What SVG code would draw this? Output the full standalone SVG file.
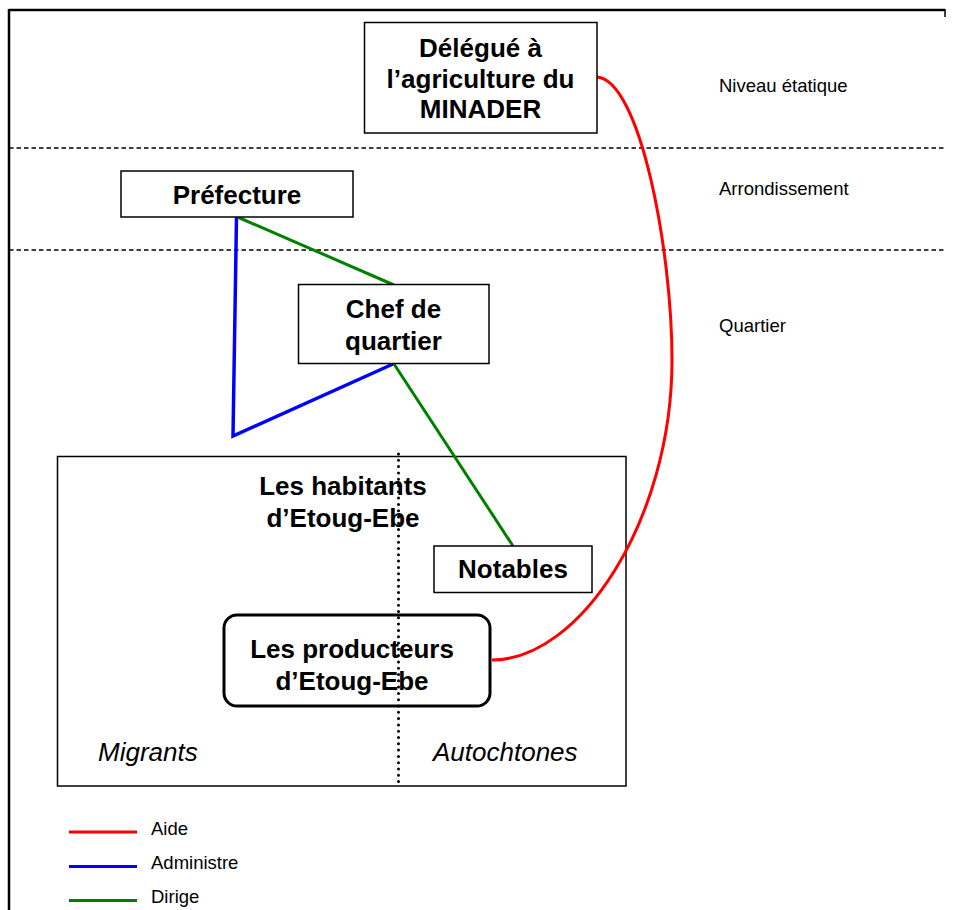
<svg xmlns="http://www.w3.org/2000/svg" width="956" height="910" viewBox="0 0 956 910">
<style>
text{font-family:"Liberation Sans",Arial,sans-serif;fill:#000}
.b{font-weight:bold;font-size:26px;text-anchor:middle}
.s{font-size:18.5px}
.i{font-style:italic;font-size:26px}
.box{fill:#fff;stroke:#000;stroke-width:1.5}
.dash{stroke:#000;stroke-width:1.3;stroke-dasharray:4.5 3;fill:none}
.red{stroke:#ff0000;stroke-width:3;fill:none}
.blue{stroke:#0000ff;stroke-width:3.5;fill:none;stroke-linejoin:miter}
.green{stroke:#008000;stroke-width:3;fill:none}
</style>
<rect width="956" height="910" fill="#fff"/>
<g id="frame">
<line x1="9" y1="10" x2="945" y2="10" stroke="#000" stroke-width="2.5"/>
<line x1="9" y1="9" x2="9" y2="910" stroke="#000" stroke-width="2.5"/>
<line x1="945" y1="9" x2="945" y2="17" stroke="#000" stroke-width="1.5"/>
<line class="dash" x1="9" y1="148" x2="945" y2="148"/>
<line class="dash" x1="9" y1="250" x2="945" y2="250"/>
</g>
<g id="levels">
<text class="s" x="719" y="92">Niveau étatique</text>
<text class="s" x="719" y="195">Arrondissement</text>
<text class="s" x="719" y="332">Quartier</text>
</g>
<g id="habitants">
<rect class="box" x="57.5" y="456.5" width="568.5" height="329.5"/>
<line x1="398.5" y1="454" x2="398.5" y2="786" stroke="#000" stroke-width="3" stroke-dasharray="0 6.3" stroke-linecap="round"/>
<text class="b" x="343" y="495">Les habitants</text>
<text class="b" x="343" y="527">d’Etoug-Ebe</text>
<text class="i" x="98" y="761">Migrants</text>
<text class="i" x="433" y="761">Autochtones</text>
</g>
<g id="connectors">
<path class="blue" d="M236.5,217 L233,436 L393,364"/>
<path class="green" d="M237.5,217 L394,285"/>
<path class="green" d="M394,364 L513,546"/>
<path class="red" d="M597,77 C640,80 672,250 672,360 C672,520 580,660 492,660"/>
</g>
<g id="delegue">
<rect class="box" x="364.5" y="22.5" width="232.5" height="110.5"/>
<text class="b" x="480.5" y="57">Délégué à</text>
<text class="b" x="480.5" y="88">l’agriculture du</text>
<text class="b" x="480.5" y="118">MINADER</text>
</g>
<g id="prefecture">
<rect class="box" x="121" y="171" width="232" height="46"/>
<text class="b" x="237" y="204">Préfecture</text>
</g>
<g id="chef">
<rect class="box" x="298.5" y="284.5" width="190.5" height="79"/>
<text class="b" x="393.5" y="318">Chef de</text>
<text class="b" x="393.5" y="350">quartier</text>
</g>
<g id="notables">
<rect class="box" x="434" y="546" width="158" height="46.5"/>
<text class="b" x="513" y="578">Notables</text>
</g>
<g id="producteurs">
<rect x="224" y="615" width="266" height="91" rx="13" fill="none" stroke="#000" stroke-width="3"/>
<text class="b" x="352" y="658">Les producteurs</text>
<text class="b" x="352" y="690">d’Etoug-Ebe</text>
</g>
<g id="legend">
<line x1="69" y1="832" x2="137" y2="832" stroke="#ff0000" stroke-width="3"/>
<line x1="69" y1="866.5" x2="137" y2="866.5" stroke="#0000ff" stroke-width="3"/>
<line x1="69" y1="900.5" x2="137" y2="900.5" stroke="#008000" stroke-width="3"/>
<text class="s" x="151" y="835">Aide</text>
<text class="s" x="151" y="869">Administre</text>
<text class="s" x="151" y="903">Dirige</text>
</g>
</svg>
